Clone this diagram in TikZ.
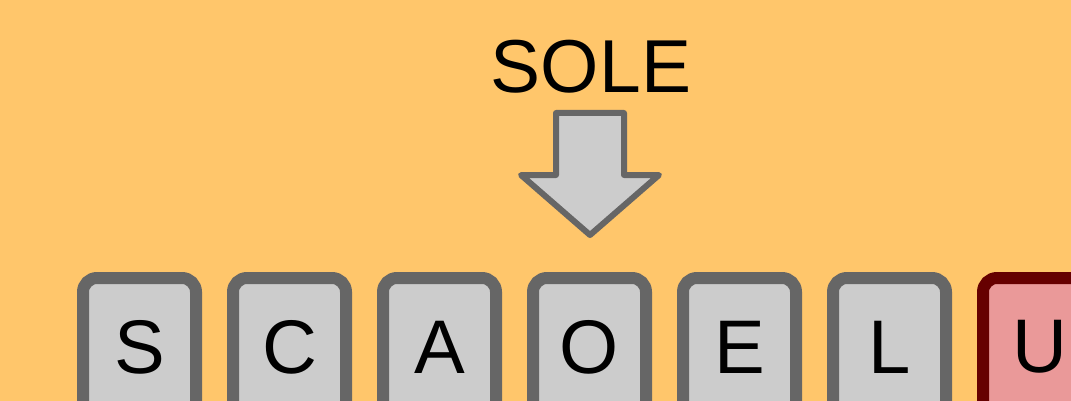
\documentclass[tikz,border=0pt]{standalone}
\usepackage{fontspec}
\setmainfont{Liberation Sans}
\definecolor{bg}{HTML}{FFC66B}
\definecolor{keyfill}{HTML}{CCCCCC}
\definecolor{keyline}{HTML}{666666}
\definecolor{badfill}{HTML}{EA9999}
\definecolor{badline}{HTML}{660000}
\tikzset{
  keybox/.style={draw=keyline, fill=keyfill, line width=12pt, rounded corners=14pt,
    minimum width=113pt, minimum height=138pt, inner sep=0pt,
    font=\fontsize{76}{80}\selectfont, text=black},
  badbox/.style={keybox, draw=badline, fill=badfill},
  wordlabel/.style={font=\fontsize{75}{80}\selectfont, text=black, inner sep=0pt}
}
\begin{document}
\begin{tikzpicture}[x=1pt,y=-1pt]
\useasboundingbox (0,0) rectangle (1071,401);
\fill[bg] (0,0) rectangle (1071,401);
\node[wordlabel] (word) at (591,67) {SOLE};
\draw[keyline, fill=keyfill, line width=6pt, line join=round]
  (556,113) -- (624,113) -- (624,175) -- (659,175) -- (590,235) -- (521,175) -- (556,175) -- cycle;
\begin{scope}
\clip (0,0) rectangle (1071,401);
\node[keybox] (k1) at (139.5,347) {S};
\node[keybox] (k2) at (289.5,347) {C};
\node[keybox] (k3) at (439.5,347) {A};
\node[keybox] (k4) at (589.5,347) {O};
\node[keybox] (k5) at (739.5,347) {E};
\node[keybox] (k6) at (889.5,347) {L};
\node[badbox] (k7) at (1039.5,347) {U};
\end{scope}
\end{tikzpicture}
\end{document}
